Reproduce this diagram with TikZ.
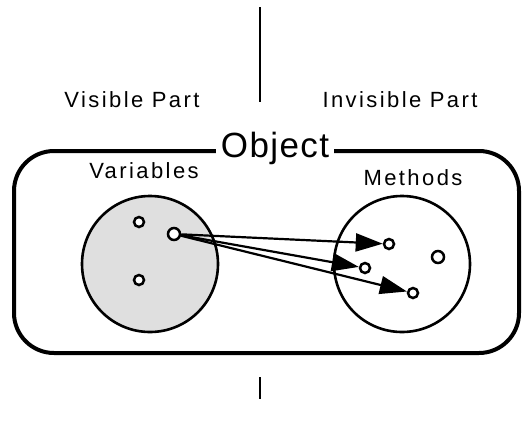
\documentclass[tikz,border=0pt]{standalone}
\usepackage{fontspec}
\setmainfont{Liberation Sans}
\usetikzlibrary{arrows.meta}
\tikzset{
  lbl/.style={inner sep=0pt, anchor=base, font=\fontsize{22}{24}\selectfont\addfontfeatures{LetterSpace=11}},
  setc/.style={draw, line width=2.6pt, circle, minimum size=136pt, inner sep=0pt},
  dot/.style={draw, line width=2.5pt, circle, minimum size=10pt, inner sep=0pt, fill=white},
  ref/.style={line width=2.2pt, arrows={-Triangle[length=27pt,width=18pt]}},
  divider/.style={line width=2.4pt}
}
\begin{document}
\begin{tikzpicture}[x=1pt,y=-1pt]
\useasboundingbox (0,0) rectangle (522,429);
% divider lines
\coordinate (t1) at (260,7);
\coordinate (t2) at (260,102);
\coordinate (b1) at (260,377);
\coordinate (b2) at (260,399);
\draw[divider] (t1) -- (t2);
\draw[divider] (b1) -- (b2);
% labels
\node[lbl] (vis) at (132,107) {Visible Part};
\node[lbl] (invis) at (400,107) {Invisible Part};
% object box
\draw[line width=4pt, rounded corners=40pt] (14,151) rectangle (519,353);
\node[inner xsep=5pt, inner ysep=0pt, fill=white, anchor=base,
      font=\fontsize{35}{38}\selectfont\addfontfeatures{LetterSpace=4}] (obj) at (275,157) {Object};
\node[lbl] (vars) at (144,178) {Variables};
\node[lbl] (meth) at (413,185) {Methods};
% sets
\node[setc, fill=gray!25] (vset) at (150,264) {};
\node[setc] (mset) at (402,264) {};
% variables
\node[dot] (v1) at (139,222) {};
\node[dot, minimum size=12pt] (v2) at (174,234) {};
\node[dot] (v3) at (139,280) {};
% methods
\node[dot] (m1) at (389,244) {};
\node[dot] (m2) at (365,268) {};
\node[dot] (m3) at (413,293) {};
\node[dot, minimum size=12pt] (m4) at (438,257) {};
% references
\draw[ref] (v2) -- (m1);
\draw[ref] (v2) -- (m2);
\draw[ref] (v2) -- (m3);
\end{tikzpicture}
\end{document}
